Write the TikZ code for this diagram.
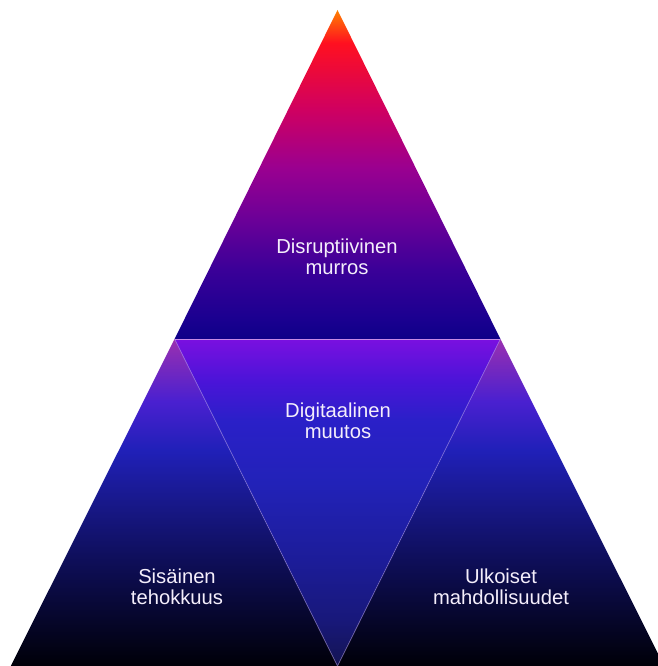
\documentclass[tikz,border=0pt]{standalone}
\usepackage{fontspec}
\setmainfont{Liberation Sans}
\definecolor{txtcol}{HTML}{F4EEFB}
\definecolor{sepline}{HTML}{C68AE6}
\definecolor{diagline}{HTML}{B8A0E8}
% top triangle
\definecolor{ta}{HTML}{0E0088}
\definecolor{tb}{HTML}{1A0090}
\definecolor{tc}{HTML}{3A0098}
\definecolor{td}{HTML}{6A0098}
\definecolor{te}{HTML}{9A0090}
\definecolor{tf}{HTML}{D00060}
\definecolor{tg}{HTML}{FF1020}
\definecolor{th}{HTML}{FF8000}
% middle inverted triangle
\definecolor{ma}{HTML}{141452}
\definecolor{mb}{HTML}{18187A}
\definecolor{mc}{HTML}{1C1C98}
\definecolor{md}{HTML}{2222B8}
\definecolor{me}{HTML}{2A20C8}
\definecolor{mf}{HTML}{4A14D8}
\definecolor{mg}{HTML}{7A10E0}
% side triangles
\definecolor{sa}{HTML}{000008}
\definecolor{sb}{HTML}{06062A}
\definecolor{sc}{HTML}{0E0E58}
\definecolor{sd}{HTML}{18188A}
\definecolor{se}{HTML}{2020B8}
\definecolor{sf}{HTML}{4A20D0}
\definecolor{sg}{HTML}{9A30B0}
\pgfdeclareverticalshading{topshade}{100bp}{%
  color(0bp)=(ta); color(25bp)=(ta); color(28bp)=(tb); color(35.5bp)=(tc);
  color(43bp)=(td); color(51bp)=(te); color(60bp)=(tf); color(70bp)=(tg);
  color(75bp)=(th); color(100bp)=(th)}
\pgfdeclareverticalshading{midshade}{100bp}{%
  color(0bp)=(ma); color(25bp)=(ma); color(32bp)=(mb); color(41bp)=(mc);
  color(53bp)=(md); color(62.5bp)=(me); color(68.5bp)=(mf);
  color(75bp)=(mg); color(100bp)=(mg)}
\pgfdeclareverticalshading{sideshade}{100bp}{%
  color(0bp)=(sa); color(25bp)=(sa); color(32bp)=(sb); color(41bp)=(sc);
  color(50bp)=(sd); color(58bp)=(se); color(65.5bp)=(sf);
  color(75bp)=(sg); color(100bp)=(sg)}
\tikzset{
  lbl/.style={text=txtcol, font=\fontsize{20.2}{21.5}\selectfont, align=center, inner sep=0pt, anchor=base},
  sep/.style={draw=sepline, line width=0.9pt},
  diag/.style={draw=diagline, draw opacity=0.45, line width=0.8pt}
}
\begin{document}
\begin{tikzpicture}[x=1pt,y=-1pt]
\useasboundingbox (0,0) rectangle (657,666);
\coordinate (A) at (337.5,10);
\coordinate (L) at (174.6,339);
\coordinate (R) at (500.4,339);
\coordinate (BL) at (10.8,666);
\coordinate (BR) at (664.2,666);
\coordinate (BM) at (337.5,666);
% regions
\path[shading=topshade] (A) -- (L) -- (R) -- cycle;
\path[shading=sideshade] (L) -- (BL) -- (BM) -- cycle;
\path[shading=sideshade] (R) -- (BM) -- (BR) -- cycle;
\path[shading=midshade] (L) -- (R) -- (BM) -- cycle;
% separators
\draw[diag] (L) -- (BM) -- (R);
\draw[sep] (L) -- (R);
% labels (anchor base = baseline of last line)
\node[lbl] (t1) at (337,274.5) {Disruptiivinen\\murros};
\node[lbl] (t2) at (338,438.5) {Digitaalinen\\muutos};
\node[lbl] (t3) at (177,604.5) {Sisäinen\\tehokkuus};
\node[lbl] (t4) at (501,604.5) {Ulkoiset\\mahdollisuudet};
\end{tikzpicture}
\end{document}
